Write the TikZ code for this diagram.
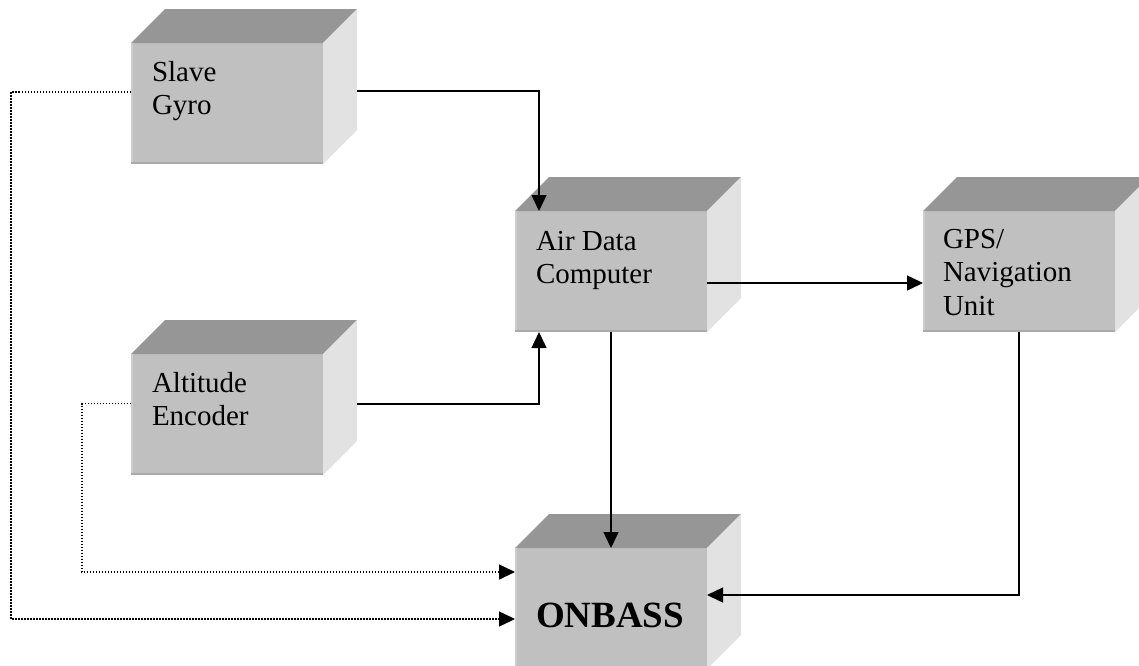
\documentclass[tikz,border=0pt]{standalone}
\usepackage{fontspec}
\setmainfont{Liberation Serif}
\usetikzlibrary{arrows.meta,calc}

\definecolor{frontgray}{HTML}{C0C0C0}
\definecolor{topgray}{HTML}{969696}
\definecolor{sidegray}{HTML}{E2E2E2}
\definecolor{edgelight}{HTML}{CCCCCC}
\definecolor{edgedark}{HTML}{AAAAAA}

\tikzset{
  front/.style={draw=none, fill=frontgray, inner sep=0pt, outer sep=0pt,
                minimum width=192pt, minimum height=121pt, anchor=north west},
  topface/.style={fill=topgray},
  sideface/.style={fill=sidegray},
  boxtext/.style={anchor=base west, inner sep=0pt, outer sep=0pt,
                  font=\fontsize{29}{33.5}\selectfont},
  bigtext/.style={anchor=base west, inner sep=0pt, outer sep=0pt,
                  font=\fontsize{37}{42}\selectfont\bfseries},
  tip/.style={-{Triangle[length=16pt,width=15pt]}},
  link/.style={tip, line width=1.5pt},
  dotlink/.style={tip, line width=1.6pt, dash pattern=on 1.5pt off 1.5pt},
}

% top and right faces of a block whose front face is node #1
\newcommand\blockfaces[1]{%
  \fill[topface] (#1.north west) -- ++(34pt,34pt)
     -- ([shift={(34pt,34pt)}]#1.north east) -- (#1.north east) -- cycle;
  \fill[sideface] (#1.north east) -- ++(34pt,34pt)
     -- ([shift={(34pt,34pt)}]#1.south east) -- (#1.south east) -- cycle;
  \draw[edgelight, line width=2pt] ([xshift=1pt]#1.south west) -- ([xshift=1pt]#1.north west);
  \draw[edgedark, line width=2pt] ([yshift=1pt]#1.south west) -- ([yshift=1pt]#1.south east);
}

\begin{document}
\begin{tikzpicture}[x=1pt, y=-1pt]
  \useasboundingbox (0,0) rectangle (1139,665);
  \clip (0,0) rectangle (1139,665);

  % front faces
  \node[front] (gyro)   at (131,43)  {};
  \node[front] (alt)    at (131,354) {};
  \node[front] (adc)    at (515,211) {};
  \node[front] (gps)    at (923,211) {};
  \node[front] (onbass) at (515,548) {};

  \blockfaces{gyro}
  \blockfaces{alt}
  \blockfaces{adc}
  \blockfaces{gps}
  \blockfaces{onbass}

  % block texts
  \node[boxtext] (gyro-t) at ([shift={(21pt,-38pt)}]gyro.north west)
    {\begin{tabular}[t]{@{}l@{}}Slave\\Gyro\end{tabular}};
  \node[boxtext] (alt-t) at ([shift={(21pt,-38pt)}]alt.north west)
    {\begin{tabular}[t]{@{}l@{}}Altitude\\Encoder\end{tabular}};
  \node[boxtext] (adc-t) at ([shift={(21pt,-39pt)}]adc.north west)
    {\begin{tabular}[t]{@{}l@{}}Air Data\\Computer\end{tabular}};
  \node[boxtext] (gps-t) at ([shift={(20pt,-37pt)}]gps.north west)
    {\begin{tabular}[t]{@{}l@{}}GPS/\\Navigation\\Unit\end{tabular}};
  \node[bigtext] (onbass-t) at ([shift={(21pt,-79pt)}]onbass.north west) {ONBASS};

  % solid data links
  \draw[link] ([shift={(34pt,12.5pt)}]gyro.east) -| ([xshift=-72pt]adc.north);
  \draw[link] ([shift={(34pt,10.5pt)}]alt.east) -| ([xshift=-72pt]adc.south);
  \draw[link] ([yshift=-11.5pt]adc.east) -- ([yshift=-11.5pt]gps.west);
  \draw[link] (adc.south) -- (onbass.north);
  \draw[link] (gps.south) |- ([yshift=13.5pt]onbass.east);

  % dotted links
  \draw[dotlink] ([yshift=11.5pt]gyro.west) -- ++(-120pt,0pt) |- ([yshift=-10.5pt]onbass.west);
  \draw[dotlink] ([yshift=11pt]alt.west) -- ++(-49pt,0pt) |- ([yshift=36.5pt]onbass.west);
\end{tikzpicture}
\end{document}
